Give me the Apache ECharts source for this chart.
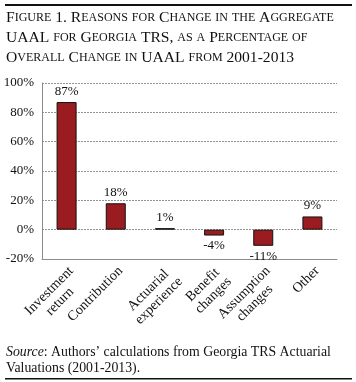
<!DOCTYPE html>
<html><head><meta charset="utf-8">
<script src="https://cdn.jsdelivr.net/npm/echarts@6/dist/echarts.min.js"></script>
<style>html,body{margin:0;padding:0;background:#fff}#c{width:356px;height:382px}</style>
</head><body><div id="c"></div>
<script>
const categories = ['Investment\nreturn', 'Contribution', 'Actuarial\nexperience', 'Benefit\nchanges', 'Assumption\nchanges', 'Other'];
const values = [87, 18, 1, -4, -11, 9];
const yMin = -20, yMax = 100, yStep = 20;
const titleLines = ['Figure 1. Reasons for Change in the Aggregate', 'UAAL for Georgia TRS, as a Percentage of', 'Overall Change in UAAL from 2001-2013'];
const sourceLines = ['{i|Source}: Authors\u2019 calculations from Georgia TRS Actuarial', 'Valuations (2001-2013).'];

const FONT = '"Liberation Serif", "Times New Roman", serif';
const ink = '#111';

function smallCaps(s) {
  let out = '', cur = '', mode = null;
  const flush = () => { if (cur) out += '{' + mode + '|' + cur + '}'; cur = ''; };
  for (const ch of s) {
    const m = (ch >= 'a' && ch <= 'z') ? 's' : 'b';
    if (m !== mode) { flush(); mode = m; }
    cur += m === 's' ? ch.toUpperCase() : ch;
  }
  flush();
  return out;
}

const cv = document.createElement('canvas').getContext('2d');
cv.font = '14px ' + FONT;
const rich = {};
categories.forEach((c, i) => {
  const w = Math.max(...c.split('\n').map(l => cv.measureText(l).width));
  rich['k' + i] = { width: Math.ceil(w) + 1, align: 'center', fontSize: 14, fontFamily: FONT, color: ink, lineHeight: 15 };
});

const chart = echarts.init(document.getElementById('c'), null, { renderer: 'canvas' });
const titleRich = {
  b: { fontSize: 15.6, fontFamily: FONT, color: ink, fontWeight: 'normal' },
  s: { fontSize: 12, fontFamily: FONT, color: ink, fontWeight: 'normal' }
};
chart.setOption({
  animation: false,
  backgroundColor: '#fff',
  title: titleLines.map((t, i) => ({
    text: smallCaps(t), left: 6, top: 10 + i * 20, padding: 0,
    textStyle: { rich: titleRich, fontSize: 15.6, fontFamily: FONT, color: ink, fontWeight: 'normal' }
  })).concat([{
    text: sourceLines.join('\n'), left: 6, top: 344, padding: 0,
    textStyle: {
      fontSize: 13.8, fontFamily: FONT, color: ink, fontWeight: 'normal', lineHeight: 16,
      rich: { i: { fontStyle: 'italic', fontSize: 13.8, fontFamily: FONT, color: ink, fontWeight: 'normal' } }
    }
  }]),
  graphic: [
    { type: 'rect', shape: { x: 5, y: 4, width: 347, height: 2 }, style: { fill: '#111' } },
    { type: 'rect', shape: { x: 5, y: 378, width: 347, height: 1.5 }, style: { fill: '#111' } }
  ],
  grid: { left: 42, right: 19, top: 83, bottom: 123 },
  xAxis: {
    type: 'category', data: categories,
    axisLine: { onZero: false, lineStyle: { color: '#8c8c8c', width: 1 } },
    axisTick: { show: false },
    axisLabel: {
      interval: 0, rotate: 45, margin: 4, color: ink, verticalAlign: 'top',
      fontSize: 14, fontFamily: FONT,
      formatter: (v, i) => v.split('\n').map(l => '{k' + i + '|' + l + '}').join('\n'),
      rich: rich
    }
  },
  yAxis: {
    type: 'value', min: yMin, max: yMax, interval: yStep,
    axisLine: { show: true, lineStyle: { color: '#8c8c8c' } },
    axisTick: { show: false },
    splitLine: { show: true, lineStyle: { color: '#949494', type: [2, 1] } },
    axisLabel: { formatter: '{value}%', color: ink, fontSize: 13, fontFamily: FONT, margin: 8 }
  },
  series: [{
    type: 'bar', barWidth: 20,
    data: values.map(v => ({ value: v, label: { position: v < 0 ? 'bottom' : 'top' } })),
    itemStyle: { color: '#9a1c20', borderColor: '#111', borderWidth: 1 },
    label: { show: true, formatter: '{c}%', color: ink, fontSize: 13, fontFamily: FONT, distance: 4 }
  }]
});
</script>
</body></html>
